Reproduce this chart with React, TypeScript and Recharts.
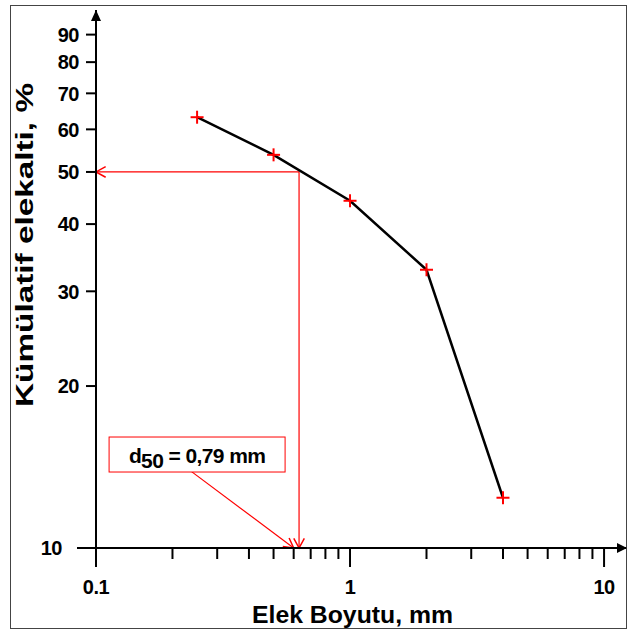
import React from "react";
import {
  ComposedChart,
  Line,
  XAxis,
  YAxis,
  ReferenceLine,
  ReferenceDot,
  Label,
} from "recharts";

// sieve analysis
const sieveSizes = [0.25, 0.5, 1, 2, 4];
const cumulativePassing = [63.2, 53.8, 44.2, 32.9, 12.4];

const xTicks = [0.1, 0.2, 0.3, 0.4, 0.5, 0.6, 0.7, 0.8, 0.9, 1, 2, 3, 4, 5, 6, 7, 8, 9, 10];
const xLabelledTicks = [0.1, 1, 10];
const yTicks = [10, 20, 30, 40, 50, 60, 70, 80, 90];
const xDomain = [0.1, 12.2];
const yDomain = [10, 100];

// d50 guide lines and the note box
const d50Label = "= 0,79 mm";
const d50Level = 50;
const d50Guide = 0.63;
const noteBox = { x: 0.25, y: 14.92 };
const noteArrow = [
  { x: 0.23, y: 14.03 },
  { x: 0.6, y: 10 },
];

const FONT = "'Liberation Sans', Arial, sans-serif";
const RED = "#ff0000";

const rows = sieveSizes.map((size, i) => ({ size, passing: cumulativePassing[i] }));

function XTick(props: any) {
  const { x, y, payload } = props;
  const major = xLabelledTicks.includes(payload.value);
  return (
    <g>
      <line x1={x} x2={x} y1={y} y2={y + (major ? 19 : 11)} stroke="#000" strokeWidth={2} />
      {major && (
        <text
          x={x}
          y={y + 46}
          textAnchor="middle"
          fontFamily={FONT}
          fontWeight="bold"
          fontSize={20}
          letterSpacing={-0.5}
          fill="#000"
        >
          {payload.value}
        </text>
      )}
    </g>
  );
}

function YTick(props: any) {
  const { x, y, payload } = props;
  const major = payload.value === 10;
  return (
    <g>
      <line x1={x - (major ? 19 : 10)} x2={x} y1={y} y2={y} stroke="#000" strokeWidth={2} />
      <text
        x={x - (major ? 34 : 17)}
        y={y}
        dy="0.36em"
        textAnchor="end"
        fontFamily={FONT}
        fontWeight="bold"
        fontSize={20}
        letterSpacing={-0.5}
        fill="#000"
      >
        {payload.value}
      </text>
    </g>
  );
}

function PlusDot(props: any) {
  const { cx, cy } = props;
  if (cx == null || cy == null) return null;
  return (
    <g>
      <line x1={cx - 6.5} x2={cx + 6.5} y1={cy} y2={cy} stroke={RED} strokeWidth={2} />
      <line x1={cx} x2={cx} y1={cy - 6.5} y2={cy + 6.5} stroke={RED} strokeWidth={2} />
    </g>
  );
}

function RedArrow(props: any) {
  const { x1, y1, x2, y2 } = props;
  const a = Math.atan2(y2 - y1, x2 - x1);
  const len = 11;
  const spread = 0.5;
  const p1 = `${x2 - len * Math.cos(a - spread)},${y2 - len * Math.sin(a - spread)}`;
  const p2 = `${x2 - len * Math.cos(a + spread)},${y2 - len * Math.sin(a + spread)}`;
  return (
    <g>
      <line x1={x1} y1={y1} x2={x2} y2={y2} stroke={RED} strokeWidth={1.2} />
      <polyline points={`${p1} ${x2},${y2} ${p2}`} fill="none" stroke={RED} strokeWidth={1.5} />
    </g>
  );
}

const ArrowUp = (props: any) => {
  const { cx, cy } = props;
  return <polygon points={`${cx},${cy} ${cx - 5},${cy + 11} ${cx + 5},${cy + 11}`} fill="#000" />;
};

const ArrowRight = (props: any) => {
  const { cx, cy } = props;
  return <polygon points={`${cx + 1},${cy} ${cx - 9},${cy - 5} ${cx - 9},${cy + 5}`} fill="#000" />;
};

const NoteBox = (props: any) => {
  const { cx, cy } = props;
  return (
    <g>
      <rect x={cx - 88} y={cy - 17.5} width={176} height={35} fill="#fff" stroke={RED} strokeWidth={1} />
      <text
        x={cx}
        y={cy + 8}
        textAnchor="middle"
        fontFamily={FONT}
        fontWeight="bold"
        fontSize={21}
        fill="#000"
        letterSpacing={-0.6}
      >
        <tspan>d</tspan>
        <tspan dy={5}>50</tspan>
        <tspan dy={-5}> {d50Label}</tspan>
      </text>
    </g>
  );
};

export default function App() {
  return (
    <div style={{ position: "fixed", left: 0, top: 0, width: 627, height: 632, background: "#fff" }}>
      <div
        style={{
          position: "absolute",
          left: 10,
          top: 5,
          width: 617,
          height: 624,
          boxSizing: "border-box",
          border: "1px solid #444",
        }}
      />
      <ComposedChart
        width={627}
        height={632}
        data={rows}
        margin={{ top: 10, right: 1, left: 0, bottom: 0 }}
        style={{ position: "absolute", left: 0, top: 0 }}
      >
        <XAxis
          dataKey="size"
          type="number"
          scale="log"
          domain={xDomain}
          allowDataOverflow
          ticks={xTicks}
          interval={0}
          tickSize={0}
          tickMargin={0}
          tickLine={false}
          tick={(p: any) => <XTick {...p} />}
          axisLine={{ stroke: "#000", strokeWidth: 2 }}
          height={84}
        >
          <Label
            content={(p: any) => {
              const vb = p.viewBox;
              return (
                <text
                  x={vb.x + 256.5}
                  y={vb.y + 75}
                  textAnchor="middle"
                  fontFamily={FONT}
                  fontWeight="bold"
                  fontSize={23}
                  fill="#000"
                  textLength={201}
                  lengthAdjust="spacingAndGlyphs"
                >
                  Elek Boyutu, mm
                </text>
              );
            }}
          />
        </XAxis>
        <YAxis
          type="number"
          scale="log"
          domain={yDomain}
          allowDataOverflow
          ticks={yTicks}
          interval={0}
          tickSize={0}
          tickMargin={0}
          tickLine={false}
          tick={(p: any) => <YTick {...p} />}
          axisLine={{ stroke: "#000", strokeWidth: 2 }}
          width={96}
        >
          <Label
            content={(p: any) => {
              const vb = p.viewBox;
              const cy = vb.y + 235;
              return (
                <text
                  transform={`translate(33,${cy}) rotate(-90)`}
                  x={0}
                  y={0}
                  textAnchor="middle"
                  fontFamily={FONT}
                  fontWeight="bold"
                  fontSize={24}
                  fill="#000"
                  textLength={324}
                  lengthAdjust="spacingAndGlyphs"
                >
                  Kümülatif elekalti, %
                </text>
              );
            }}
          />
        </YAxis>

        <ReferenceDot x={xDomain[0]} y={yDomain[1]} ifOverflow="visible" shape={<ArrowUp />} />
        <ReferenceDot x={xDomain[1]} y={yDomain[0]} ifOverflow="visible" shape={<ArrowRight />} />

        <ReferenceLine
          segment={[
            { x: d50Guide, y: d50Level },
            { x: xDomain[0], y: d50Level },
          ]}
          ifOverflow="visible"
          shape={(p: any) => <RedArrow {...p} />}
        />
        <ReferenceLine
          segment={[
            { x: d50Guide, y: d50Level },
            { x: d50Guide, y: yDomain[0] },
          ]}
          ifOverflow="visible"
          shape={(p: any) => <RedArrow {...p} />}
        />
        <ReferenceLine segment={noteArrow} ifOverflow="visible" shape={(p: any) => <RedArrow {...p} />} />
        <ReferenceDot x={noteBox.x} y={noteBox.y} ifOverflow="visible" shape={<NoteBox />} />

        <Line
          dataKey="passing"
          type="linear"
          stroke="#000"
          strokeWidth={2.5}
          dot={(p: any) => <PlusDot key={p.index} {...p} />}
          activeDot={false}
          isAnimationActive={false}
        />
      </ComposedChart>
    </div>
  );
}
